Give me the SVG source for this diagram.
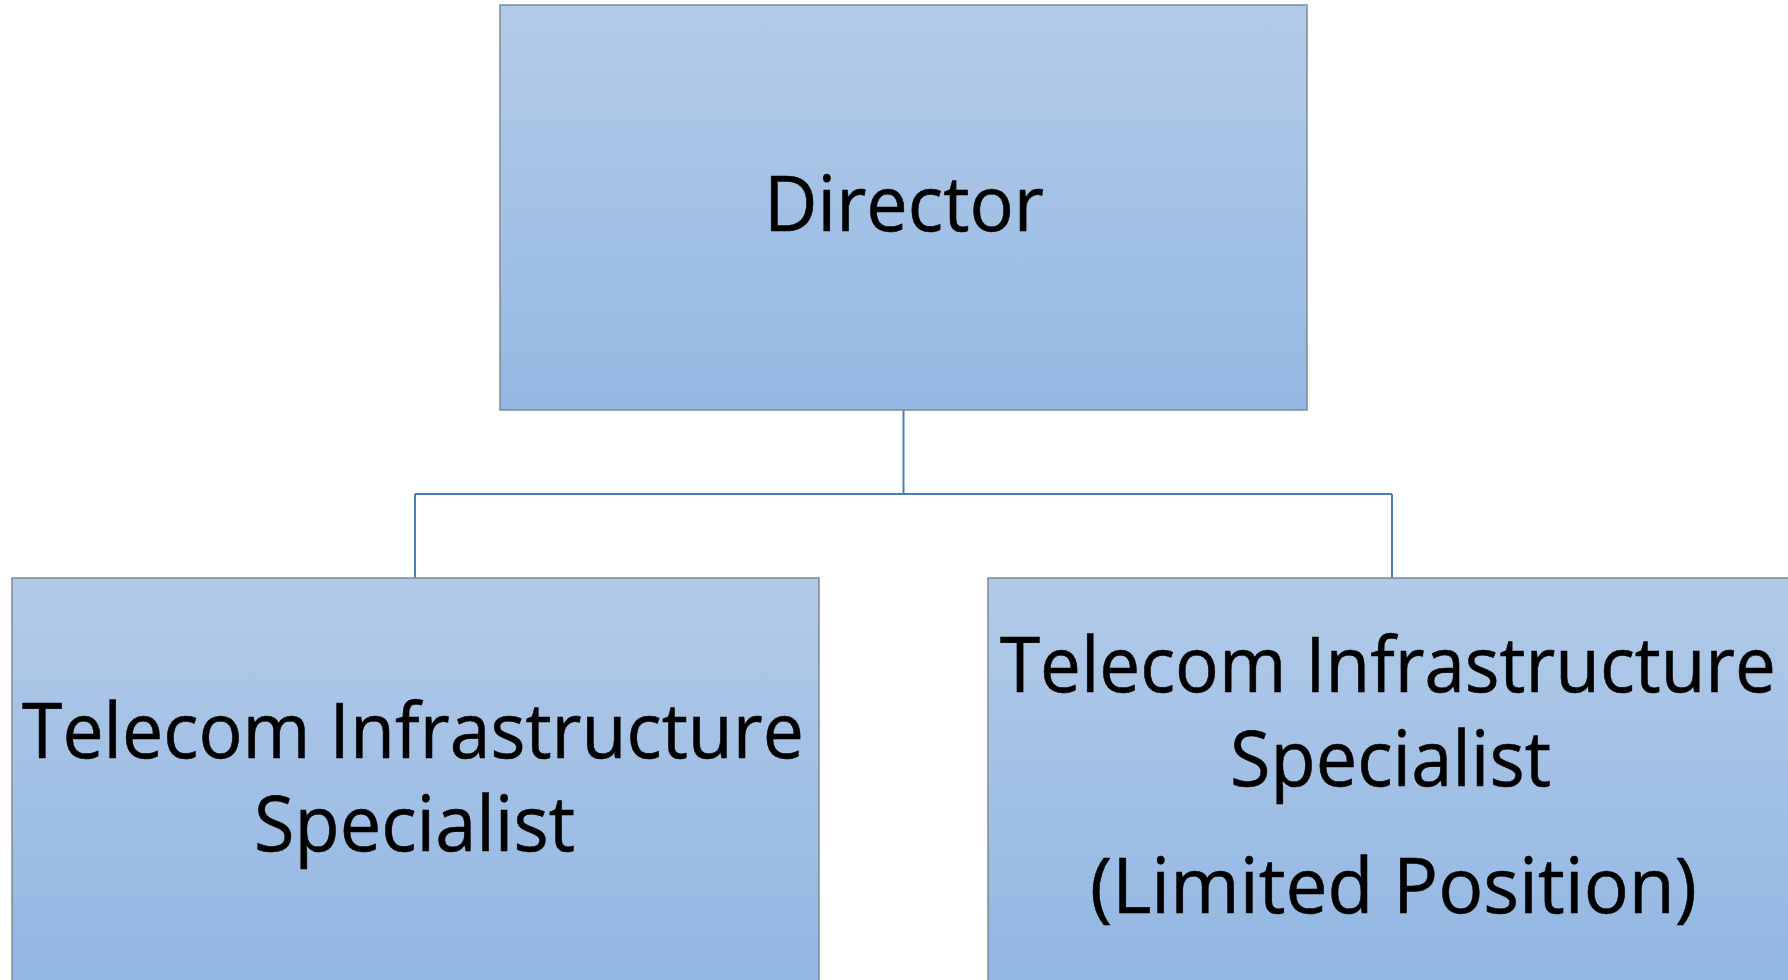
<svg xmlns="http://www.w3.org/2000/svg" width="1788" height="980" viewBox="0 0 1788 980">
<defs>
<linearGradient id="g1" x1="0" y1="0" x2="0" y2="1">
<stop offset="0" stop-color="#B3CBE8"/>
<stop offset="1" stop-color="#94B8E3"/>
</linearGradient>
<linearGradient id="g2" x1="0" y1="578" x2="0" y2="980" gradientUnits="userSpaceOnUse">
<stop offset="0" stop-color="#B2CAE8"/>
<stop offset="1" stop-color="#92B7E3"/>
</linearGradient>
<style>
.box{stroke:#7F8A96;stroke-width:1.5}
.t{font-family:"Open Sans","Noto Sans","Liberation Sans",sans-serif;font-size:76px;fill:#000;stroke:#000;stroke-width:0.6}
.c{fill:none;stroke:#4A7EB0;stroke-width:2}
</style>
</defs>
<rect width="1788" height="980" fill="#FFFFFF"/>
<g id="connectors">
<path class="c" d="M903.5 410 V494 M415 494 H1392 M415 494 V578 M1392 494 V578"/>
</g>
<g id="director">
<rect class="box" x="500" y="5" width="807" height="405" fill="url(#g1)"/>
<text class="t" x="764" y="231" textLength="280" lengthAdjust="spacingAndGlyphs">Director</text>
</g>
<g id="specialist-left">
<rect class="box" x="12" y="578" width="807" height="420" fill="url(#g2)"/>
<text class="t" x="22" y="758" textLength="782" lengthAdjust="spacingAndGlyphs">Telecom Infrastructure</text>
<text class="t" x="254" y="851" textLength="321" lengthAdjust="spacingAndGlyphs">Specialist</text>
</g>
<g id="specialist-right">
<rect class="box" x="988" y="578" width="820" height="420" fill="url(#g2)"/>
<text class="t" x="1000" y="692" textLength="776" lengthAdjust="spacingAndGlyphs">Telecom Infrastructure</text>
<text class="t" x="1230" y="786" textLength="321" lengthAdjust="spacingAndGlyphs">Specialist</text>
<text class="t" x="1090" y="913" textLength="607" lengthAdjust="spacingAndGlyphs">(Limited Position)</text>
</g>
</svg>
